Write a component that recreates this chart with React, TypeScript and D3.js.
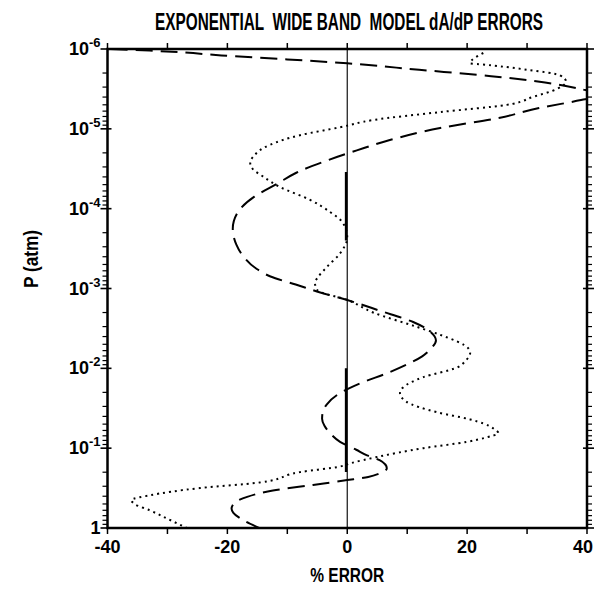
import React, { useRef, useEffect } from "react";
import * as d3 from "d3";

const W = 594;
const H = 591;
const margin = { top: 49, right: 7, bottom: 63, left: 107.5 };

const xTickValues = [-40, -30, -20, -10, 0, 10, 20, 30, 40];
const xLabelValues = [-40, -20, 0, 20, 40];
const decadeExps = [-6, -5, -4, -3, -2, -1, 0];

// dashed curve: log10(P) and % error
const dashedLogP = [
  -6.0, -5.98, -5.96, -5.92, -5.87, -5.82, -5.74, -5.66, -5.58, -5.5, -5.45, -5.4, -5.36,
  -5.26, -5.14, -5.01, -4.86, -4.73, -4.6, -4.45, -4.32, -4.15, -3.95, -3.75, -3.55, -3.39,
  -3.25, -3.15, -3.05, -2.95, -2.855, -2.72, -2.58, -2.45, -2.35, -2.25, -2.15, -2.05, -1.95,
  -1.81, -1.69, -1.55, -1.45, -1.37, -1.28, -1.19, -1.08, -0.98, -0.91, -0.85, -0.75, -0.68,
  -0.64, -0.6, -0.54, -0.47, -0.39, -0.3, -0.24, -0.19, -0.1, 0.0,
];
const dashedErr = [
  -39.5, -33, -28, -21, -10, 0, 12, 24, 33, 38.8, 41.5, 41.5, 39, 32, 25.5, 15.5, 7.1, 1.6,
  -3.5, -8.5, -11.5, -15.5, -18.3, -19.1, -18.5, -17.2, -15.2, -12.8, -8.6, -4.5, 0, 5.5, 11,
  14, 14.8, 14, 12.5, 10, 7, 2.1, -1.2, -3.4, -4.1, -4.2, -3.8, -2.9, -1.2, 1.5, 3.3, 5.4,
  6.6, 5.3, 3.5, 0, -5.7, -12.4, -16.7, -19, -19.3, -19, -17.4, -14.7,
];

// dotted curve
const dottedLogP = [
  -5.95, -5.82, -5.81, -5.74, -5.67, -5.59, -5.5, -5.4, -5.3, -5.21, -5.11, -5.02, -4.92,
  -4.8, -4.65, -4.58, -4.5, -4.4, -4.27, -4.11, -3.96, -3.82, -3.64, -3.44, -3.27, -3.13,
  -3.08, -2.98, -2.855, -2.7, -2.52, -2.42, -2.25, -2.19, -2.1, -2.01, -1.89, -1.76, -1.69,
  -1.58, -1.45, -1.36, -1.31, -1.24, -1.19, -1.13, -1.08, -1.0, -0.89, -0.81, -0.77, -0.7,
  -0.57, -0.5, -0.41, -0.35, -0.3, -0.22, -0.12, 0.0,
];
const dottedErr = [
  22.7, 20.5, 22, 30, 35.5, 36.5, 35, 31, 26.6, 15.5, 4.3, -1.2, -7.9, -12.9, -15.7, -16.2,
  -15.8, -14, -11.2, -6.2, -2.9, -0.7, 0, -1.2, -3.4, -5.0, -5.4, -5.0, 0.1, 4.3, 11.6, 15.5,
  20.2, 20.5, 19.8, 18.3, 12.7, 9.3, 8.8, 9.9, 15, 20.5, 22.7, 24.5, 25.2, 23, 20, 12.7, 5,
  0.5, -1.2, -7.9, -14.6, -24.6, -32.9, -36, -35.5, -32.9, -30.1, -26.8,
];

// solid curve lying on the zero line (visible where it separates slightly)
const solidLogP = [-4.46, -4.0, -3.6, NaN, -2.0, -1.3, -0.7];
const solidErr = [-0.2, -0.2, -0.2, NaN, -0.2, -0.2, -0.2];

const App = () => {
  const svgRef = useRef<SVGSVGElement>(null);

  useEffect(() => {
    const svg = d3.select(svgRef.current);
    svg.selectAll("*").remove();

    const x = d3.scaleLinear().domain([-40, 40]).range([margin.left, W - margin.right]);
    const y = d3.scaleLog().domain([1e-6, 1]).range([margin.top, H - margin.bottom]);
    const x0 = x.range()[0], x1 = x.range()[1];
    const y0 = y.range()[0], y1 = y.range()[1];
    const numFont = "'Liberation Sans Narrow', 'Liberation Sans', Arial, sans-serif";

    svg
      .append("defs")
      .append("clipPath")
      .attr("id", "plotclip")
      .append("rect")
      .attr("x", x0)
      .attr("y", y0)
      .attr("width", x1 - x0)
      .attr("height", y1 - y0);

    // zero line
    svg
      .append("line")
      .attr("x1", x(0)).attr("x2", x(0))
      .attr("y1", y0).attr("y2", y1)
      .attr("stroke", "#111")
      .attr("stroke-width", 1.2);

    const line = d3
      .line<[number, number]>()
      .defined((d) => !isNaN(d[0]) && !isNaN(d[1]))
      .x((d) => x(d[1]))
      .y((d) => y(Math.pow(10, d[0])))
      .curve(d3.curveMonotoneY);

    const g = svg.append("g").attr("clip-path", "url(#plotclip)");

    g.append("path")
      .attr("d", line(dashedLogP.map((p, i) => [p, dashedErr[i]])))
      .attr("fill", "none")
      .attr("stroke", "#000")
      .attr("stroke-width", 2)
      .attr("stroke-dasharray", "17,8");

    g.append("path")
      .attr("d", line(dottedLogP.map((p, i) => [p, dottedErr[i]])))
      .attr("fill", "none")
      .attr("stroke", "#000")
      .attr("stroke-width", 2)
      .attr("stroke-dasharray", "2,4");

    g.append("path")
      .attr("d", line(solidLogP.map((p, i) => [p, solidErr[i]])))
      .attr("fill", "none")
      .attr("stroke", "#000")
      .attr("stroke-width", 2.4);

    // frame
    svg
      .append("rect")
      .attr("x", x0).attr("y", y0)
      .attr("width", x1 - x0).attr("height", y1 - y0)
      .attr("fill", "none")
      .attr("stroke", "#000")
      .attr("stroke-width", 2.5);

    // x ticks, bottom and top (outward)
    xTickValues.forEach((v) => {
      const len = 6;
      svg.append("line")
        .attr("x1", x(v)).attr("x2", x(v))
        .attr("y1", y1).attr("y2", y1 + len)
        .attr("stroke", "#000").attr("stroke-width", 1.5);
      svg.append("line")
        .attr("x1", x(v)).attr("x2", x(v))
        .attr("y1", y0).attr("y2", y0 - len)
        .attr("stroke", "#000").attr("stroke-width", 1.5);
    });

    // y ticks (log), left and right
    decadeExps.forEach((e) => {
      const v = Math.pow(10, e);
      [
        [x0, -1],
        [x1, 1],
      ].forEach(([xx, dir]) => {
        svg.append("line")
          .attr("x1", xx - dir * 4).attr("x2", xx + dir * 7)
          .attr("y1", y(v)).attr("y2", y(v))
          .attr("stroke", "#000").attr("stroke-width", 1.6);
        if (e < 0) {
          for (let k = 2; k <= 9; k++) {
            const vv = k * v;
            svg.append("line")
              .attr("x1", xx).attr("x2", xx + dir * 5)
              .attr("y1", y(vv)).attr("y2", y(vv))
              .attr("stroke", "#000").attr("stroke-width", 1.2);
          }
        }
      });
    });

    // x labels
    svg
      .append("g")
      .selectAll("text")
      .data(xLabelValues)
      .join("text")
      .attr("x", (d) => (d === 40 ? W - 1 : x(d)))
      .attr("y", y1 + 25)
      .attr("text-anchor", (d) => (d === 40 ? "end" : "middle"))
      .attr("font-family", numFont)
      .attr("font-weight", "bold")
      .attr("font-size", 18)
      .text((d) => (d < 0 ? "-" + Math.abs(d) : String(d)));

    // y labels
    decadeExps.forEach((e) => {
      const t = svg
        .append("text")
        .attr("x", x0 - 7)
        .attr("y", y(Math.pow(10, e)) + 6)
        .attr("text-anchor", "end")
        .attr("font-family", numFont)
        .attr("font-weight", "bold")
        .attr("font-size", 18);
      if (e === 0) {
        t.text("1");
      } else {
        t.append("tspan").text("10");
        t.append("tspan").attr("dy", -8).attr("font-size", 13).text("-" + Math.abs(e));
      }
    });

    // axis titles
    svg
      .append("text")
      .attr("x", (x0 + x1) / 2)
      .attr("y", H - 9)
      .attr("text-anchor", "middle")
      .attr("font-family", numFont)
      .attr("font-weight", "bold")
      .attr("font-size", 21)
      .attr("textLength", 74)
      .attr("lengthAdjust", "spacingAndGlyphs")
      .text("% ERROR");

    svg
      .append("text")
      .attr("transform", `translate(38, 259) rotate(-90)`)
      .attr("text-anchor", "middle")
      .attr("font-family", numFont)
      .attr("font-weight", "bold")
      .attr("font-size", 21)
      .attr("textLength", 58)
      .attr("lengthAdjust", "spacingAndGlyphs")
      .text("P (atm)");

    svg
      .append("text")
      .attr("x", 349)
      .attr("y", 30)
      .attr("text-anchor", "middle")
      .attr("font-family", numFont)
      .attr("font-weight", "bold")
      .attr("font-size", 23)
      .attr("textLength", 388)
      .attr("lengthAdjust", "spacingAndGlyphs")
      .style("white-space", "pre")
      .text("EXPONENTIAL  WIDE BAND  MODEL dA/dP ERRORS");
  }, []);

  return (
    <svg
      ref={svgRef}
      width={W}
      height={H}
      style={{ position: "absolute", left: 0, top: 0, background: "#fff" }}
    />
  );
};

export default App;
